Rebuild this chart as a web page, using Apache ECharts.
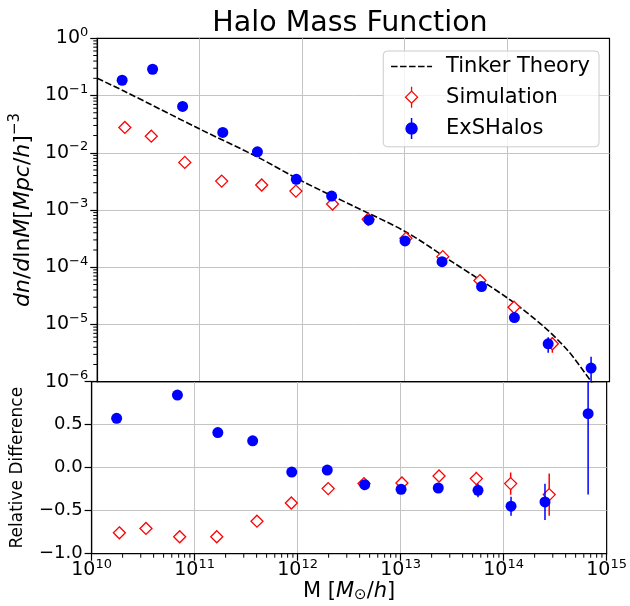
<!DOCTYPE html>
<html><head><meta charset="utf-8">
<script src="https://cdn.jsdelivr.net/npm/echarts@6/dist/echarts.min.js"></script>
<style>html,body{margin:0;padding:0;background:#fff}#c{width:630px;height:606px}</style>
</head><body><div id="c"></div>
<script>
// ---- data ----
const theoryMass = [1e10, 1.82e10, 1e11, 3.63e11, 1.02e12, 3.02e12, 1.02e13, 3.02e13, 1.02e14, 2.29e14, 3.98e14, 6.46e14, 7.0e14];
const theoryHMF  = [0.200, 0.120, 0.0260, 0.00851, 0.00313, 0.00122, 4.18e-4, 1.19e-4, 2.86e-5, 9.14e-6, 3.39e-6, 1.07e-6, 8.5e-7];

const simMass   = [1.86e10, 3.37e10, 7.16e10, 1.64e11, 4.03e11, 8.69e11, 1.98e12, 4.41e12, 1.03e13, 2.36e13, 5.43e13, 1.17e14, 2.77e14];
const simHMF    = [0.0277, 0.0195, 0.00679, 0.0032, 0.00273, 0.00214, 0.00127, 6.9e-4, 3.2e-4, 1.53e-4, 5.85e-5, 2.0e-5, 4.6e-6];
const simHMFErr = [0.0008, 0.0006, 0.0002, 0.0001, 0.00008, 0.00006, 0.00004, 0.00002, 0.00001, 0.000005, 0.000002, 0.0000015, 0.0000014];

const exsMass   = [1.75e10, 3.47e10, 6.81e10, 1.68e11, 3.66e11, 8.77e11, 1.94e12, 4.48e12, 1.01e13, 2.32e13, 5.64e13, 1.18e14, 2.52e14, 6.61e14];
const exsHMF    = [0.185, 0.288, 0.0644, 0.0227, 0.0104, 0.00343, 0.00175, 6.7e-4, 2.88e-4, 1.25e-4, 4.6e-5, 1.32e-5, 4.6e-6, 1.73e-6];
const exsHMFErr = [0.004, 0.006, 0.0015, 0.0005, 0.0002, 0.00007, 0.00004, 0.00002, 0.00001, 0.000005, 0.000002, 0.0000012, 0.0000014, 0.000001];

const simDiffMass = [1.86e10, 3.37e10, 7.16e10, 1.64e11, 4.03e11, 8.69e11, 1.98e12, 4.41e12, 1.03e13, 2.36e13, 5.43e13, 1.17e14, 2.77e14];
const simDiff     = [-0.757, -0.706, -0.803, -0.803, -0.622, -0.41, -0.243, -0.185, -0.178, -0.097, -0.127, -0.185, -0.313];
const simDiffErr  = [0.02, 0.02, 0.02, 0.02, 0.02, 0.02, 0.02, 0.03, 0.03, 0.04, 0.08, 0.13, 0.245];

const exsDiffMass = [1.75e10, 6.81e10, 1.68e11, 3.66e11, 8.77e11, 1.94e12, 4.48e12, 1.01e13, 2.32e13, 5.64e13, 1.18e14, 2.52e14, 6.61e14];
const exsDiff     = [0.574, 0.845, 0.409, 0.313, -0.051, -0.028, -0.197, -0.251, -0.236, -0.263, -0.448, -0.398, 0.628];
const exsDiffErr  = [0.02, 0.03, 0.02, 0.02, 0.02, 0.02, 0.03, 0.03, 0.04, 0.08, 0.11, 0.21, 0.94];

const minorFactors = [2, 3, 4, 5, 6, 7, 8, 9];
const xDecades = [10, 11, 12, 13, 14];
const yDecades = [-6, -5, -4, -3, -2, -1];

// ---- chart ----
const FONT = 'DejaVu Sans';
const chart = echarts.init(document.getElementById('c'), null, {renderer: 'canvas'});

function powLabel(v) {
  const e = Math.round(Math.log10(v));
  return '{b|10}{s|' + (e < 0 ? '\u2212' : '') + Math.abs(e) + '}';
}
const powRich = {
  b: {fontSize: 19, lineHeight: 25, fontFamily: FONT, color: '#000'},
  s: {fontSize: 13, lineHeight: 13, verticalAlign: 'top', fontFamily: FONT, color: '#000'}
};
const tickStyle = {show: true, length: 7, lineStyle: {color: '#000', width: 1.2}};
const gridLine = {show: true, showMinLine: false, showMaxLine: false, lineStyle: {color: '#c4c4c4', width: 1}};
const axisLineBlack = {show: true, onZero: false, lineStyle: {color: '#000', width: 1.2}};

const pairs = (xs, ys) => xs.map((x, i) => [x, ys[i]]);
const errData = (xs, ys, es) => xs.map((x, i) => [x, ys[i] - es[i], ys[i] + es[i]]);

function errRender(color) {
  return function (params, api) {
    const a = api.coord([api.value(0), api.value(1)]);
    const b = api.coord([api.value(0), api.value(2)]);
    return {type: 'line', shape: {x1: a[0], y1: a[1], x2: b[0], y2: b[1]},
            style: {stroke: color, lineWidth: 1.5}};
  };
}

const yMinor = [];
yDecades.forEach(d => minorFactors.forEach(f => yMinor.push([1e10, f * Math.pow(10, d)])));
const xMinor = [];
xDecades.forEach(d => minorFactors.forEach(f => xMinor.push([f * Math.pow(10, d), -1])));

const diamondIcon = 'path://M6,0 L6,4.5 M6,4.5 L12,10.5 L6,16.5 L0,10.5 Z M6,16.5 L6,21';
const circleIcon = 'path://M5.5,0 L5.5,21 M0,10.5 A5.5,5.5 0 1 1 11,10.5 A5.5,5.5 0 1 1 0,10.5 Z';

const simStyle = {color: '#ffffff', borderColor: '#ff0000', borderWidth: 1.3, opacity: 1};
const exsStyle = {color: '#0000ff', opacity: 1};

const option = {
  animation: false,
  backgroundColor: '#fff',
  textStyle: {fontFamily: FONT},
  title: {
    text: 'Halo Mass Function', left: 350, top: 9.5, textAlign: 'center', padding: 0,
    textStyle: {fontSize: 28.5, fontWeight: 'normal', fontFamily: FONT, color: '#000'}
  },
  legend: {
    orient: 'vertical', right: 31, top: 51, padding: [5, 9, 7, 7], itemGap: 9,
    itemWidth: 41, itemHeight: 21, selectedMode: false,
    backgroundColor: 'rgba(255,255,255,0.8)', borderColor: '#cccccc', borderWidth: 1, borderRadius: 4,
    textStyle: {fontSize: 21, fontFamily: FONT, color: '#000', lineHeight: 21, padding: [0, 0, 0, 9]},
    data: [
      {name: 'Tinker Theory', lineStyle: {width: 1.6}, itemStyle: {color: 'rgba(0,0,0,0)', borderWidth: 0, opacity: 0}},
      {name: 'Simulation', icon: diamondIcon, itemStyle: {color: '#ffffff', borderColor: '#ff0000', borderWidth: 1.3}},
      {name: 'ExSHalos', icon: circleIcon, itemStyle: {color: '#0000ff', borderColor: '#0000ff', borderWidth: 1.5}}
    ]
  },
  grid: [
    {left: 91, right: 20.5, top: 38.3, height: 343.4, show: true, borderColor: '#000', borderWidth: 1.2, backgroundColor: 'rgba(0,0,0,0)'},
    {left: 91, right: 20.5, top: 381.7, height: 172, show: true, borderColor: '#000', borderWidth: 1.2, backgroundColor: 'rgba(0,0,0,0)'}
  ],
  xAxis: [
    {gridIndex: 0, type: 'log', logBase: 10, min: 1e10, max: 1e15, splitNumber: 5,
     axisLine: axisLineBlack, axisTick: {show: false}, axisLabel: {show: false}, splitLine: gridLine},
    {gridIndex: 1, type: 'log', logBase: 10, min: 1e10, max: 1e15, splitNumber: 5,
     axisLine: axisLineBlack, axisTick: tickStyle, splitLine: gridLine,
     axisLabel: {margin: 4, formatter: powLabel, rich: powRich},
     name: '{m|M [}{i|M}{sub|\u2299}{m|/}{i|h}{m|]}', nameLocation: 'middle', nameGap: 25,
     nameTextStyle: {rich: {
       m: {fontSize: 21, lineHeight: 24, fontFamily: FONT, color: '#000'},
       i: {fontSize: 21, lineHeight: 24, fontStyle: 'italic', fontFamily: FONT, color: '#000'},
       sub: {fontSize: 15, lineHeight: 16, verticalAlign: 'bottom', fontFamily: FONT, color: '#000'}
     }}}
  ],
  yAxis: [
    {gridIndex: 0, type: 'log', logBase: 10, min: 1e-6, max: 1, splitNumber: 6,
     axisLine: axisLineBlack, axisTick: tickStyle, splitLine: gridLine,
     axisLabel: {margin: 9, formatter: powLabel, rich: powRich},
     name: '{i|dn}{r|/}{i|d}{r|ln}{i|M}{r|[}{i|Mpc}{r|/}{i|h}{r|]}{s|\u22123}',
     nameLocation: 'middle', nameGap: 43, nameRotate: 90,
     nameTextStyle: {rich: {
       i: {fontSize: 22, lineHeight: 30, fontStyle: 'italic', fontFamily: FONT, color: '#000'},
       r: {fontSize: 22, lineHeight: 30, fontFamily: FONT, color: '#000'},
       s: {fontSize: 15, lineHeight: 15, verticalAlign: 'top', fontFamily: FONT, color: '#000'}
     }}},
    {gridIndex: 1, type: 'value', min: -1, max: 1, interval: 0.5,
     axisLine: axisLineBlack, axisTick: tickStyle, splitLine: gridLine,
     axisLabel: {margin: 9, fontSize: 18, color: '#000', fontFamily: FONT,
       formatter: v => (v >= 1 ? '' : (v < 0 ? '\u2212' : '') + Math.abs(v).toFixed(1))},
     name: 'Relative Difference', nameLocation: 'middle', nameGap: 47, nameRotate: 90,
     nameTextStyle: {fontSize: 17, lineHeight: 20, color: '#000', fontFamily: FONT}}
  ],
  series: [
    {name: 'yMinorTicks', type: 'custom', xAxisIndex: 0, yAxisIndex: 0, silent: true, z: 5,
     data: yMinor, renderItem: (p, api) => {
       const c = api.coord([api.value(0), api.value(1)]);
       return {type: 'line', shape: {x1: c[0] - 4, y1: c[1], x2: c[0], y2: c[1]}, style: {stroke: '#000', lineWidth: 1}};
     }},
    {name: 'xMinorTicks', type: 'custom', xAxisIndex: 1, yAxisIndex: 1, silent: true, z: 5,
     data: xMinor, renderItem: (p, api) => {
       const c = api.coord([api.value(0), api.value(1)]);
       return {type: 'line', shape: {x1: c[0], y1: c[1], x2: c[0], y2: c[1] + 4}, style: {stroke: '#000', lineWidth: 1}};
     }},
    {name: 'Tinker Theory', type: 'line', xAxisIndex: 0, yAxisIndex: 0, data: pairs(theoryMass, theoryHMF),
     symbol: 'none', showSymbol: false, smooth: 0.3, clip: true, z: 2,
     lineStyle: {color: '#000', width: 1.6, type: [6.5, 2.5]}, itemStyle: {color: '#000'}},
    {name: 'simErr', type: 'custom', xAxisIndex: 0, yAxisIndex: 0, clip: true, silent: true, z: 3,
     encode: {x: 0, y: [1, 2]}, data: errData(simMass, simHMF, simHMFErr), renderItem: errRender('#ff0000')},
    {name: 'Simulation', type: 'scatter', xAxisIndex: 0, yAxisIndex: 0, data: pairs(simMass, simHMF),
     symbol: 'diamond', symbolSize: 12, z: 3, itemStyle: simStyle},
    {name: 'exsErr', type: 'custom', xAxisIndex: 0, yAxisIndex: 0, clip: true, silent: true, z: 4,
     encode: {x: 0, y: [1, 2]}, data: errData(exsMass, exsHMF, exsHMFErr), renderItem: errRender('#0000ff')},
    {name: 'ExSHalos', type: 'scatter', xAxisIndex: 0, yAxisIndex: 0, data: pairs(exsMass, exsHMF),
     symbol: 'circle', symbolSize: 11, z: 4, itemStyle: exsStyle},
    {name: 'simDiffErr', type: 'custom', xAxisIndex: 1, yAxisIndex: 1, clip: true, silent: true, z: 3,
     encode: {x: 0, y: [1, 2]}, data: errData(simDiffMass, simDiff, simDiffErr), renderItem: errRender('#ff0000')},
    {name: 'Simulation', type: 'scatter', xAxisIndex: 1, yAxisIndex: 1, data: pairs(simDiffMass, simDiff),
     symbol: 'diamond', symbolSize: 12, z: 3, itemStyle: simStyle},
    {name: 'exsDiffErr', type: 'custom', xAxisIndex: 1, yAxisIndex: 1, clip: true, silent: true, z: 4,
     encode: {x: 0, y: [1, 2]}, data: errData(exsDiffMass, exsDiff, exsDiffErr), renderItem: errRender('#0000ff')},
    {name: 'ExSHalos', type: 'scatter', xAxisIndex: 1, yAxisIndex: 1, data: pairs(exsDiffMass, exsDiff),
     symbol: 'circle', symbolSize: 11, z: 4, itemStyle: exsStyle}
  ]
};
chart.setOption(option);
</script>
</body></html>
